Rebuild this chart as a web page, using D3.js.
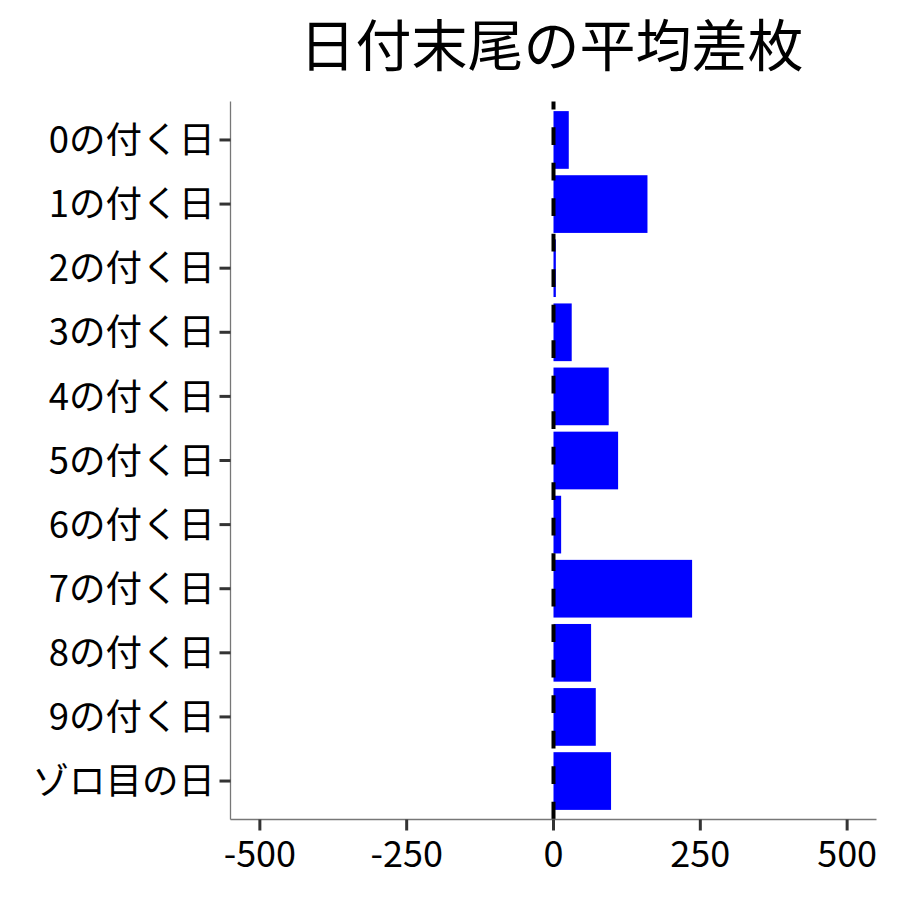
<!DOCTYPE html>
<html lang="ja">
<head>
  <meta charset="UTF-8">
  <title>日付末尾の平均差枚</title>
  <script src="https://d3js.org/d3.v7.min.js"></script>
  <style>
    body { margin: 0; background: #fff; }
    svg { display: block; }
    text { font-family: "Noto Sans CJK JP", "Noto Sans", sans-serif; fill: #000; }
  </style>
</head>
<body>
  <svg width="900" height="900"></svg>

  <script>
    // chart data
    const categories = ["0の付く日", "1の付く日", "2の付く日", "3の付く日", "4の付く日",
      "5の付く日", "6の付く日", "7の付く日", "8の付く日", "9の付く日", "ゾロ目の日"];
    const avgDiff = [26, 160, 4, 31, 94, 110, 13, 236, 64, 72, 98];
    const xTicks = [-500, -250, 0, 250, 500];
    const xLimits = [-500, 500];
    const titleText = "日付末尾の平均差枚";

    const svg = d3.select("svg");
    const panel = { left: 230.5, right: 876.5, top: 101.5, bottom: 819.5 };

    // ggplot-style 5% expansion on the continuous axis
    const span = xLimits[1] - xLimits[0];
    const xScale = d3.scaleLinear()
      .domain([xLimits[0] - span * 0.05, xLimits[1] + span * 0.05])
      .range([panel.left, panel.right]);

    // discrete axis: 0.6 units of padding on each end, bars 0.9 wide
    const n = categories.length;
    const step = (panel.bottom - panel.top) / (n - 1 + 1.2);
    const yCenter = i => panel.top + (0.6 + i) * step;
    const barH = step * 0.9;

    // bars
    svg.append("g")
      .selectAll("rect")
      .data(avgDiff)
      .join("rect")
      .attr("x", d => Math.min(xScale(0), xScale(d)))
      .attr("y", (d, i) => yCenter(i) - barH / 2)
      .attr("width", d => Math.abs(xScale(d) - xScale(0)))
      .attr("height", barH)
      .attr("fill", "#0000ff");

    // dashed zero line, drawn upward from the bottom
    svg.append("line")
      .attr("x1", xScale(0)).attr("x2", xScale(0))
      .attr("y1", panel.bottom).attr("y2", panel.top)
      .attr("stroke", "#000")
      .attr("stroke-width", 4)
      .attr("stroke-dasharray", "17.75,17.75");

    // axis lines
    svg.append("line")
      .attr("x1", panel.left).attr("x2", panel.left)
      .attr("y1", panel.top).attr("y2", panel.bottom)
      .attr("stroke", "#777").attr("stroke-width", 1.3);
    svg.append("line")
      .attr("x1", panel.left).attr("x2", panel.right)
      .attr("y1", panel.bottom).attr("y2", panel.bottom)
      .attr("stroke", "#777").attr("stroke-width", 1.3);

    // x ticks + labels
    const xg = svg.append("g");
    xg.selectAll("line")
      .data(xTicks)
      .join("line")
      .attr("x1", d => xScale(d)).attr("x2", d => xScale(d))
      .attr("y1", panel.bottom).attr("y2", panel.bottom + 11)
      .attr("stroke", "#333").attr("stroke-width", 3);
    xg.selectAll("text")
      .data(xTicks)
      .join("text")
      .attr("x", d => xScale(d))
      .attr("y", 867)
      .attr("text-anchor", "middle")
      .attr("font-size", 36)
      .text(d => d);

    // y ticks + labels
    const yg = svg.append("g");
    yg.selectAll("line")
      .data(categories)
      .join("line")
      .attr("x1", panel.left - 11).attr("x2", panel.left)
      .attr("y1", (d, i) => yCenter(i)).attr("y2", (d, i) => yCenter(i))
      .attr("stroke", "#333").attr("stroke-width", 3);
    yg.selectAll("text")
      .data(categories)
      .join("text")
      .attr("x", 215)
      .attr("y", (d, i) => yCenter(i))
      .attr("dy", "0.36em")
      .attr("text-anchor", "end")
      .attr("font-size", 36.5)
      .text(d => d);

    // title
    svg.append("text")
      .attr("x", (panel.left + panel.right) / 2 - 2)
      .attr("y", 66)
      .attr("text-anchor", "middle")
      .attr("font-size", 56)
      .text(titleText);
  </script>
</body>
</html>
